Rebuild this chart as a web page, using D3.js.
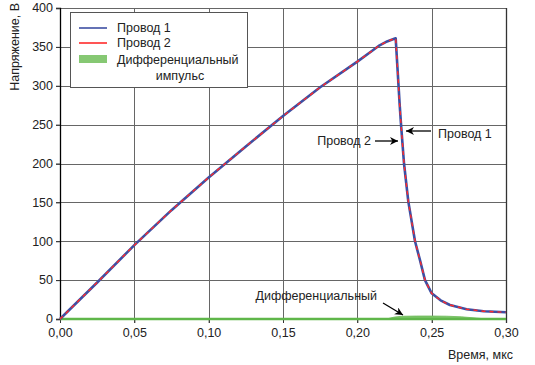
<!DOCTYPE html>
<html><head><meta charset="utf-8">
<script src="https://cdn.jsdelivr.net/npm/d3@7"></script>
<style>body{margin:0;background:#fff}svg{display:block;font-family:"Liberation Sans",Arial,sans-serif}</style>
</head><body><svg id="c" width="535" height="365"></svg>
<script>
const time = [0, 0.025, 0.05, 0.075, 0.10, 0.125, 0.15, 0.175, 0.20, 0.21, 0.215, 0.22, 0.2235, 0.2258, 0.2285, 0.2294, 0.2314, 0.2343, 0.2388, 0.2421, 0.2455, 0.25, 0.256, 0.2623, 0.2735, 0.285, 0.30];
const wire1 = [0, 47, 95, 140, 182, 222, 261, 298, 331, 345, 352, 357, 359.5, 361, 275, 250, 200, 151, 100, 76, 50, 33, 24, 18, 12.5, 10, 8.6];
const wire2 = [0, 47, 95, 140, 182, 222, 261, 298, 331, 345, 352, 357, 359.5, 361, 275, 250, 200, 151, 100, 76, 50, 33, 24, 18, 12.5, 10, 8.6];
const diffTime = [0, 0.215, 0.2206, 0.225, 0.23, 0.24, 0.25, 0.26, 0.27, 0.28, 0.287, 0.30];
const diffVals = [0, 0, 0.5, 2.5, 3.5, 3.8, 3.8, 3.6, 2.8, 1.2, 0, 0];
const xTicks = [0, 0.05, 0.10, 0.15, 0.20, 0.25, 0.30];
const yTicks = [0, 50, 100, 150, 200, 250, 300, 350, 400];
const legendLabels = ["Провод 1", "Провод 2", "Дифференциальный", "импульс"];

const FS = "12.5px";
const svg = d3.select("#c");
const x = d3.scaleLinear().domain([0, 0.30]).range([60, 506]);
const y = d3.scaleLinear().domain([0, 400]).range([319, 8]);
const fmt = d => d3.format(".2f")(d).replace(".", ",");

// grid
svg.append("g").selectAll("line").data(xTicks.slice(1)).join("line")
  .attr("x1", d => Math.round(x(d)) + 0.5).attr("x2", d => Math.round(x(d)) + 0.5)
  .attr("y1", y(400)).attr("y2", y(0) + 4).attr("stroke", "#666").attr("stroke-width", 1);
svg.append("g").selectAll("line").data(yTicks.slice(1)).join("line")
  .attr("x1", x(0) - 4).attr("x2", x(0.30))
  .attr("y1", d => Math.round(y(d)) + 0.5).attr("y2", d => Math.round(y(d)) + 0.5)
  .attr("stroke", "#666").attr("stroke-width", 1);
// frame
svg.append("line").attr("x1", Math.round(x(0.30)) + 0.5).attr("x2", Math.round(x(0.30)) + 0.5)
  .attr("y1", y(400)).attr("y2", y(0) + 4).attr("stroke", "#333").attr("stroke-width", 1.3);

// axes
const yAxis = svg.append("g").attr("transform", `translate(${x(0)},0)`)
  .call(d3.axisLeft(y).tickValues(yTicks).tickSize(4).tickPadding(3));
const xAxis = svg.append("g").attr("transform", `translate(0,${y(0)})`)
  .call(d3.axisBottom(x).tickValues(xTicks).tickFormat(fmt).tickSize(4).tickPadding(5));
[yAxis, xAxis].forEach(g => {
  g.select(".domain").attr("stroke", "#000").attr("stroke-width", 1.3);
  g.selectAll(".tick line").attr("stroke", "#333");
  g.selectAll("text").attr("fill", "#222").style("font-size", FS).style("font-family", "Liberation Sans, Arial, sans-serif");
});
xAxis.select(".domain").attr("stroke", "none");
yAxis.selectAll(".tick text").attr("dy", "0.3em");

// differential area
const area = d3.area().x((d, i) => x(diffTime[i])).y0(y(0)).y1((d) => y(d));
svg.append("path").datum(diffVals).attr("d", area).attr("fill", "#7dc46a").attr("stroke", "#6cbb58").attr("stroke-width", 0.8);
svg.append("line").attr("x1", x(0)).attr("x2", x(0.30)).attr("y1", y(0)).attr("y2", y(0))
  .attr("stroke", "#5fb64a").attr("stroke-width", 2.5);

// lines
const line = vals => d3.line().x((d, i) => x(time[i])).y(d => y(d))(vals);
svg.append("path").attr("d", line(wire1)).attr("fill", "none").attr("stroke", "#3d4fa3").attr("stroke-width", 2.6).attr("stroke-linejoin", "round");
svg.append("path").attr("d", line(wire2)).attr("fill", "none").attr("stroke", "#ff2a2a").attr("stroke-width", 1.4).attr("stroke-dasharray", "4,4").attr("stroke-linejoin", "round");

// legend
const lg = svg.append("g");
lg.append("rect").attr("x", 70.5).attr("y", 12.5).attr("width", 177).attr("height", 75)
  .attr("fill", "#fff").attr("stroke", "#555").attr("stroke-width", 1);
lg.append("line").attr("x1", 79).attr("x2", 107).attr("y1", 28).attr("y2", 28).attr("stroke", "#3d4fa3").attr("stroke-width", 1.6);
lg.append("line").attr("x1", 79).attr("x2", 107).attr("y1", 43).attr("y2", 43).attr("stroke", "#ff2a2a").attr("stroke-width", 1.6);
lg.append("rect").attr("x", 79).attr("y", 55).attr("width", 28).attr("height", 8).attr("fill", "#86c873");
const lt = [[117, 32, "start"], [117, 47, "start"], [117, 64, "start"], [180, 80, "middle"]];
lg.selectAll("text").data(legendLabels).join("text")
  .attr("x", (d, i) => lt[i][0]).attr("y", (d, i) => lt[i][1]).attr("text-anchor", (d, i) => lt[i][2])
  .attr("fill", "#222").style("font-size", FS).text(d => d);

// axis titles
svg.append("text").attr("transform", "translate(19,3) rotate(-90)").attr("text-anchor", "end")
  .attr("fill", "#222").style("font-size", FS).text("Напряжение, В");
svg.append("text").attr("x", 513).attr("y", 359).attr("text-anchor", "end")
  .attr("fill", "#222").style("font-size", FS).text("Время, мкс");

// annotations
const defs = svg.append("defs");
defs.append("marker").attr("id", "ah").attr("viewBox", "0 0 10 10").attr("refX", 10).attr("refY", 5)
  .attr("markerWidth", 10).attr("markerHeight", 8).attr("markerUnits", "userSpaceOnUse").attr("orient", "auto")
  .append("path").attr("d", "M0,0 L10,5 L0,10 L3,5 Z").attr("fill", "#000");
const ann = [
  {text: "Провод 2", tx: 371, ty: 145, anchor: "end", x1: 375, y1: 141, x2: 398, y2: 141},
  {text: "Провод 1", tx: 438, ty: 138, anchor: "start", x1: 431, y1: 131, x2: 406, y2: 131},
  {text: "Дифференциальный", tx: 377, ty: 300, anchor: "end", x1: 383, y1: 303, x2: 403, y2: 315}
];
ann.forEach(a => {
  svg.append("text").attr("x", a.tx).attr("y", a.ty).attr("text-anchor", a.anchor)
    .attr("fill", "#222").style("font-size", FS).text(a.text);
  svg.append("line").attr("x1", a.x1).attr("y1", a.y1).attr("x2", a.x2).attr("y2", a.y2)
    .attr("stroke", "#000").attr("stroke-width", 1.3).attr("marker-end", "url(#ah)");
});
</script></body></html>
